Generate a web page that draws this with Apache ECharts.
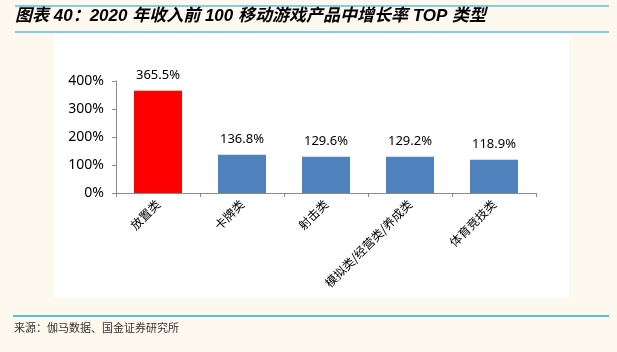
<!DOCTYPE html>
<html>
<head>
<meta charset="utf-8">
<script src="https://cdn.jsdelivr.net/npm/echarts@6/dist/echarts.min.js"></script>
<style>
  html, body { margin: 0; padding: 0; background: #fdf9ef; }
  #chart { width: 617px; height: 352px; }
</style>
</head>
<body>
<div id="chart"></div>
<script>
const categories = ['放置类', '卡牌类', '射击类', '模拟类/经营类/养成类', '体育竞技类']
const growth = [365.5, 136.8, 129.6, 129.2, 118.9]
const barColors = ['#ff0000', '#4f81bd', '#4f81bd', '#4f81bd', '#4f81bd']
const yTicks = [0, 100, 200, 300, 400]

const titleText = '图表 40：2020 年收入前 100 移动游戏产品中增长率 TOP 类型'
const sourceText = '来源：伽马数据、国金证券研究所'

const chart = echarts.init(document.getElementById('chart'))

const option = {
  backgroundColor: '#fdf9ef',
  animation: false,
  graphic: [
    { type: 'rect', silent: true, z: 0, shape: { x: 54, y: 33, width: 515, height: 265 }, style: { fill: '#ffffff' } },
    { type: 'line', silent: true, shape: { x1: 15, y1: 6, x2: 609, y2: 6 }, style: { stroke: '#7fcdea', lineWidth: 2 } },
    { type: 'line', silent: true, shape: { x1: 15, y1: 32, x2: 609, y2: 32 }, style: { stroke: '#7fcdea', lineWidth: 2 } },
    { type: 'line', silent: true, shape: { x1: 13, y1: 316, x2: 609, y2: 316 }, style: { stroke: '#1fa8e8', lineWidth: 1.5 } },
    {
      type: 'text', left: 15, top: 8,
      style: { text: titleText, fill: '#000', font: 'italic bold 17px "Liberation Sans", "Noto Sans CJK SC", sans-serif' }
    },
    {
      type: 'text', left: 14, top: 322,
      style: { text: sourceText, fill: '#333', font: '11px "Noto Sans CJK SC", sans-serif' }
    }
  ],
  grid: { left: 116, right: 81, top: 81, bottom: 159 },
  xAxis: {
    type: 'category',
    data: categories,
    axisLine: { lineStyle: { color: '#8c8c8c' } },
    axisTick: { show: true, length: 4, lineStyle: { color: '#8c8c8c' } },
    axisLabel: { rotate: 45, interval: 0, color: '#000', fontSize: 12, margin: 9, fontFamily: '"Noto Sans CJK SC", sans-serif' }
  },
  yAxis: {
    type: 'value',
    min: yTicks[0],
    max: yTicks[yTicks.length - 1],
    interval: 100,
    splitLine: { show: false },
    axisLine: { show: true, lineStyle: { color: '#8c8c8c' } },
    axisTick: { show: true, length: 4, lineStyle: { color: '#8c8c8c' } },
    axisLabel: { color: '#000', fontSize: 14, margin: 12, formatter: v => v + '%', fontFamily: '"Noto Sans", sans-serif' }
  },
  series: [{
    type: 'bar',
    barWidth: 48,
    data: growth.map((v, i) => ({ value: v, itemStyle: { color: barColors[i] } })),
    label: {
      show: true,
      position: 'top',
      distance: 9,
      color: '#000',
      fontSize: 13,
      fontFamily: '"Noto Sans", sans-serif',
      formatter: p => p.value.toFixed(1) + '%'
    }
  }]
}

chart.setOption(option)
</script>
</body>
</html>
